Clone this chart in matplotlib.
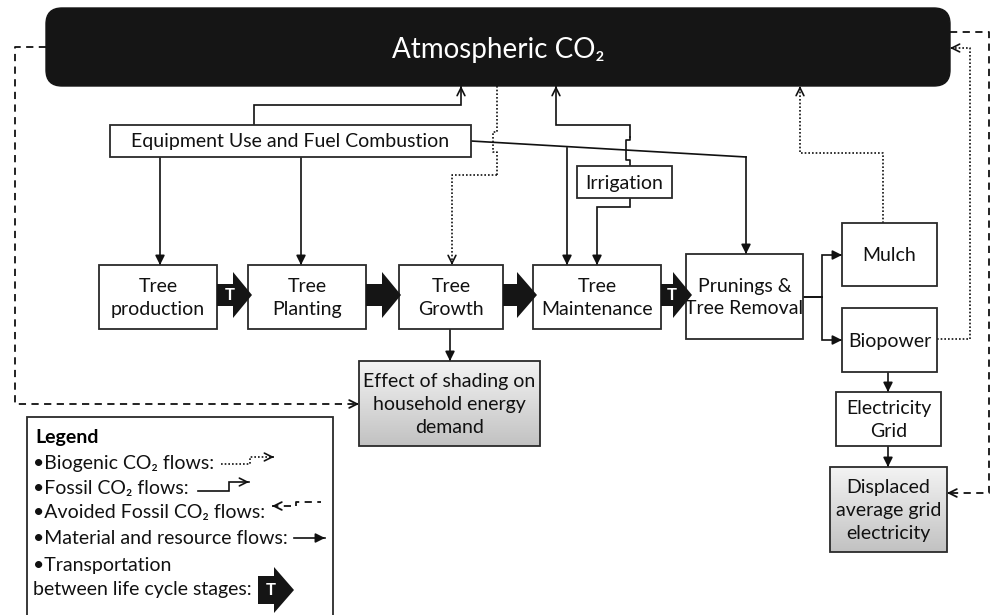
import numpy as np
import matplotlib
matplotlib.use("Agg")
import matplotlib.pyplot as plt
from matplotlib.patches import Rectangle, FancyBboxPatch, Polygon

plt.rcParams['font.family'] = ['Lato', 'DejaVu Sans']

# box labels
stage_labels = ["Tree\nproduction", "Tree\nPlanting", "Tree\nGrowth",
                "Tree\nMaintenance", "Prunings &\nTree Removal"]
end_labels = ["Mulch", "Biopower", "Electricity\nGrid"]
grey_labels = ["Effect of shading on\nhousehold energy\ndemand",
               "Displaced\naverage grid\nelectricity"]
top_label = "Atmospheric CO\u2082"
equip_label = "Equipment Use and Fuel Combustion"
irr_label = "Irrigation"
legend_items = ["\u2022Biogenic CO\u2082 flows:",
                "\u2022Fossil CO\u2082 flows:",
                "\u2022Avoided Fossil CO\u2082 flows:",
                "\u2022Material and resource flows:",
                "\u2022Transportation",
                "between life cycle stages:"]

# box geometry (x0, y0, x1, y1) in pixels
stage_boxes = [(99, 265, 217, 329), (248, 265, 366, 329), (399, 265, 503, 329),
               (533, 265, 661, 329), (686, 254, 803, 339)]
end_boxes = [(842, 223, 937, 286), (842, 308, 937, 372), (836, 392, 941, 446)]
grey_boxes = [(359, 361, 540, 446), (830, 467, 947, 552)]

fig = plt.figure(figsize=(9.93, 6.15), dpi=100)
ax = fig.add_axes([0, 0, 1, 1])
FS = 14
EC = '#2a2a2a'


def box(b, label, fs=FS, fill='white'):
    x0, y0, x1, y1 = b
    ax.add_patch(Rectangle((x0, y0), x1 - x0, y1 - y0, fc=fill, ec=EC, lw=1.3, zorder=3))
    ax.text((x0 + x1) / 2, (y0 + y1) / 2 + 1, label, ha='center', va='center',
            fontsize=fs, linespacing=1.4, zorder=4, color='#111')


def gbox(b, label):
    x0, y0, x1, y1 = b
    grad = np.linspace(0.95, 0.76, 50).reshape(-1, 1)
    ax.imshow(grad, extent=(x0, x1, y1, y0), cmap='gray', vmin=0, vmax=1,
              aspect='auto', zorder=2.5, interpolation='bilinear')
    ax.add_patch(Rectangle((x0, y0), x1 - x0, y1 - y0, fc='none', ec=EC, lw=1.3, zorder=3))
    ax.text((x0 + x1) / 2, (y0 + y1) / 2 + 1, label, ha='center', va='center',
            fontsize=FS, linespacing=1.4, zorder=4, color='#111')


def flow(pts, ls='-', head='->', lw=1.2, ms=14, z=2):
    xs = [p[0] for p in pts]
    ys = [p[1] for p in pts]
    ax.plot(xs, ys, color='#111', ls=ls, lw=lw, zorder=z, solid_joinstyle='miter')
    (xa, ya), (xb, yb) = pts[-2], pts[-1]
    d = np.hypot(xb - xa, yb - ya)
    ux, uy = (xb - xa) / d, (yb - ya) / d
    ax.annotate('', xy=(xb, yb), xytext=(xb - ux * 3, yb - uy * 3),
                arrowprops=dict(arrowstyle=head, color='#111', lw=lw,
                                shrinkA=0, shrinkB=0, mutation_scale=ms), zorder=z)


def transport(x0, xh, xt, yc, T=True, bh=11, hh=23):
    ax.add_patch(Polygon([(x0, yc - bh), (xh, yc - bh), (xh, yc - hh), (xt, yc),
                          (xh, yc + hh), (xh, yc + bh), (x0, yc + bh)],
                         closed=True, fc='#151515', ec='none', zorder=5))
    if T:
        ax.text(x0 + (xh - x0) * 0.5 + 5, yc, 'T', color='white', fontsize=12,
                fontweight='bold', ha='center', va='center', zorder=6)


DOT = (0, (1, 1.2))
DASH = (0, (4, 3))

# atmospheric box
ax.add_patch(FancyBboxPatch((46, 8), 904, 78, boxstyle='round,pad=0,rounding_size=16',
                            fc='#151515', ec='#151515', zorder=3))
ax.text(498, 50, top_label, color='white', fontsize=20, ha='center', va='center', zorder=4)

box((110, 125, 471, 157), equip_label)
box((577, 166, 672, 198), irr_label)
for b, lab in zip(stage_boxes, stage_labels):
    box(b, lab)
for b, lab in zip(end_boxes, end_labels):
    box(b, lab)
for b, lab in zip(grey_boxes, grey_labels):
    gbox(b, lab)

# transport arrows
transport(217, 233, 252, 295, True)
transport(366, 382, 401, 295, False)
transport(503, 517, 537, 295, False)
transport(661, 673, 692, 295, True)

# material flows (filled heads)
flow([(160, 157), (160, 265)], head='-|>')
flow([(301, 157), (301, 265)], head='-|>')
ax.plot([471, 746], [141, 157], color='#111', lw=1.2, zorder=2)
flow([(567, 148), (567, 265)], head='-|>')
flow([(746, 157), (746, 254)], head='-|>')
flow([(630, 198), (630, 207), (597, 207), (597, 265)], head='-|>')
flow([(450, 329), (450, 361)], head='-|>')
ax.plot([803, 822], [297, 297], color='#111', lw=1.4, zorder=2)
flow([(822, 297), (822, 255), (842, 255)], head='-|>')
flow([(822, 297), (822, 340), (842, 340)], head='-|>')
flow([(888, 372), (888, 392)], head='-|>')
flow([(888, 446), (888, 467)], head='-|>')

# fossil CO2 flows (open heads)
flow([(254, 125), (254, 105), (461, 105), (461, 86)])
# irrigation fossil with jump over equipment line
ax.plot([630, 630, 626, 626, 630, 630], [166, 160, 160, 140, 140, 137], color='#111', lw=1.2, zorder=2)
flow([(630, 137), (630, 125), (556, 125), (556, 86)])

# biogenic flows (dotted)
ax.plot([497, 497, 493, 493, 497, 497], [86, 132, 132, 152, 152, 175],
        color='#111', ls=DOT, lw=1.2, zorder=2)
flow([(497, 175), (452, 175), (452, 265)], ls=DOT)
flow([(883, 223), (883, 153), (800, 153), (800, 86)], ls=DOT)
flow([(937, 339), (970, 339), (970, 48), (950, 48)], ls=DOT)

# avoided fossil flows (dashed)
flow([(46, 47), (15, 47), (15, 404), (359, 404)], ls=DASH, lw=1.3)
flow([(950, 32), (989, 32), (989, 493), (947, 493)], ls=DASH, lw=1.3)

# legend
ax.add_patch(Rectangle((27, 417), 306, 210, fc='white', ec=EC, lw=1.3, zorder=3))
ax.text(35, 438, 'Legend', fontsize=FS, fontweight='bold', va='center', zorder=4)
ly = [463, 488, 513, 538, 565, 590]
for y, t in zip(ly, legend_items):
    ax.text(33, y, t, fontsize=FS, va='center', zorder=4, color='#111')
flow([(221, 464), (250, 464), (250, 457), (274, 457)], ls=DOT, z=5)
flow([(198, 491), (229, 491), (229, 482), (249, 482)], z=5)
ax.plot([296, 296, 321], [506, 502, 502], color='#111', ls=DASH, lw=1.3, zorder=5)
flow([(291, 506), (272, 506)], ls=DASH, lw=1.3, z=5)
flow([(294, 538), (325, 538)], head='-|>', z=5)
transport(258, 274, 294, 590, True, bh=14, hh=23)

ax.set_xlim(0, 993)
ax.set_ylim(615, 0)
ax.axis('off')
fig.savefig('out.png', dpi=100)
